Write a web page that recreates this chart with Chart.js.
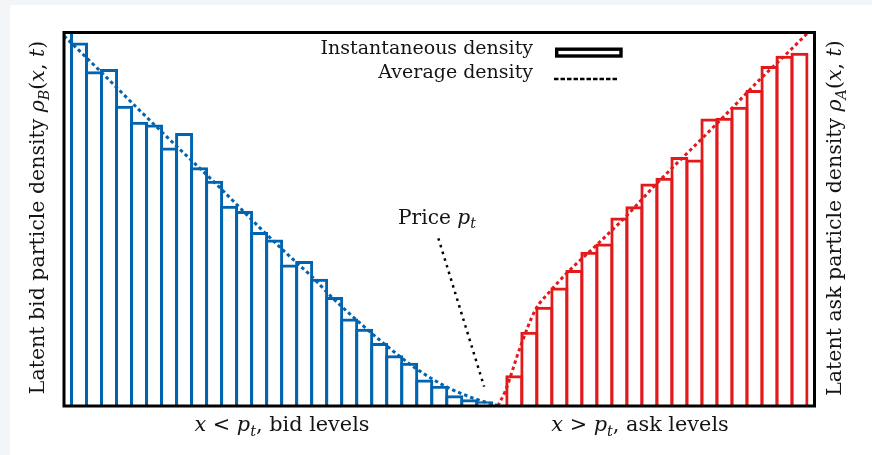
<!DOCTYPE html>
<html>
<head>
<meta charset="utf-8">
<script src="https://cdn.jsdelivr.net/npm/chart.js@4.4.0/dist/chart.umd.min.js"></script>
<style>
  html, body { margin: 0; padding: 0; background: #f3f6f8; }
  #card { position: absolute; left: 10px; top: 5px; right: 0; bottom: 0; background: #fff; }
  #box { position: absolute; left: 0; top: 0; width: 872px; height: 455px; }
</style>
</head>
<body>
<div id="card"></div>
<div id="box"><canvas id="myChart" width="872" height="455"></canvas></div>
<script>
// price levels on one grid, slot 28 holds the price
const bidLevels = [-1, 0, 1, 2, 3, 4, 5, 6, 7, 8, 9, 10, 11, 12, 13, 14, 15, 16, 17, 18, 19, 20, 21, 22, 23, 24, 25, 26, 27];
const bidDensity = [104, 97.3, 89.6, 90.2, 80.4, 76.1, 75.4, 69.2, 73.1, 63.9, 60.3, 53.6, 52.2, 46.6, 44.6,
  37.9, 38.8, 34.1, 29.2, 23.4, 20.7, 16.9, 13.6, 11.6, 7.1, 5.4, 2.9, 1.8, 1.3];

const askLevels = [29, 30, 31, 32, 33, 34, 35, 36, 37, 38, 39, 40, 41, 42, 43, 44, 45, 46, 47, 48];
const askDensity = [8.2, 19.9, 26.6, 31.7, 36.4, 41.3, 43.5, 50.5, 53.5, 59.6, 61.1, 66.7, 66.0, 77.0, 77.2,
  80.1, 84.6, 91.0, 93.8, 94.6];

// average density curves
const bidAvgLevels = [-1, 1.4, 4, 6.7, 9.4, 12, 14, 15.6, 16.7, 18.5, 20.5, 22.5, 24.5, 26.4, 27.9];
const bidAvgDensity = [99.1, 89.7, 79.3, 68.8, 58.4, 47.9, 40.2, 34.3, 29.7, 23.0, 16.1, 9.9, 5.1, 1.9, 0.1];
const askAvgLevels = [27.9, 28.4, 29.4, 30.4, 31.4, 32.5, 34.4, 36.4, 38.4, 41.4, 43.4, 45.4, 47.4, 49];
const askAvgDensity = [0, 4.0, 15.8, 25.7, 30.8, 35.6, 42.8, 50.6, 59.2, 71.2, 79.3, 87.6, 95.3, 101.7];

// pointer from the "Price" label down to the price
const priceLineLevels = [23.94, 26.99];
const priceLineDensity = [44.9, 5.2];

const BLUE = "#0064b0";
const RED = "#e31a1c";
const INK = "#141414";
const SERIF = '"DejaVu Serif", "Liberation Serif", serif';

function toPoints(xs, ys) {
  return xs.map(function (x, i) {
    return { x: x, y: ys[i] };
  });
}

// [text, style] with style r = roman, i = italic, s = italic subscript
const leftTitle = [["Latent bid particle density ", "r"], ["ρ", "i"], ["B", "s"], ["(", "r"], ["x", "i"], [", ", "r"], ["t", "i"], [")", "r"]];
const rightTitle = [["Latent ask particle density ", "r"], ["ρ", "i"], ["A", "s"], ["(", "r"], ["x", "i"], [", ", "r"], ["t", "i"], [")", "r"]];
const bidCaption = [["x", "i"], [" < ", "r"], ["p", "i"], ["t", "s"], [", bid levels", "r"]];
const askCaption = [["x", "i"], [" > ", "r"], ["p", "i"], ["t", "s"], [", ask levels", "r"]];
const priceLabel = [["Price ", "r"], ["p", "i"], ["t", "s"]];

function runFont(style, size) {
  if (style === "s") return "italic " + (size * 0.7).toFixed(1) + "px " + SERIF;
  if (style === "i") return "italic " + size + "px " + SERIF;
  return size + "px " + SERIF;
}

function drawRuns(ctx, runs, x, y, align, size) {
  const widths = runs.map(function (r) {
    ctx.font = runFont(r[1], size);
    return ctx.measureText(r[0]).width;
  });
  const total = widths.reduce(function (a, b) { return a + b; }, 0);
  let cx = x;
  if (align === "center") cx = x - total / 2;
  if (align === "right") cx = x - total;
  ctx.textBaseline = "alphabetic";
  ctx.textAlign = "left";
  runs.forEach(function (r, i) {
    ctx.font = runFont(r[1], size);
    ctx.fillText(r[0], cx, y + (r[1] === "s" ? size * 0.22 : 0));
    cx += widths[i];
  });
}

const decorations = {
  id: "decorations",
  afterDraw(chart) {
    const ctx = chart.ctx;
    const a = chart.chartArea;
    ctx.save();

    // frame
    ctx.strokeStyle = "#000";
    ctx.lineWidth = 3;
    ctx.strokeRect(a.left, a.top, a.right - a.left, a.bottom - a.top);

    ctx.fillStyle = INK;

    // axis titles
    ctx.save();
    ctx.translate(44, 217.5);
    ctx.rotate(-Math.PI / 2);
    drawRuns(ctx, leftTitle, 0, 0, "center", 20.5);
    ctx.restore();

    ctx.save();
    ctx.translate(841, 218);
    ctx.rotate(-Math.PI / 2);
    drawRuns(ctx, rightTitle, 0, 0, "center", 20.5);
    ctx.restore();

    drawRuns(ctx, bidCaption, 282, 431, "center", 20.8);
    drawRuns(ctx, askCaption, 640, 431, "center", 20.8);
    drawRuns(ctx, priceLabel, 398, 224, "left", 20.2);

    // legend
    drawRuns(ctx, [["Instantaneous density", "r"]], 533, 54, "right", 19);
    drawRuns(ctx, [["Average density", "r"]], 533, 77.5, "right", 19);

    ctx.strokeStyle = "#000";
    ctx.lineWidth = 3.4;
    ctx.strokeRect(556.7, 49.2, 64.3, 6.8);

    ctx.lineWidth = 2.5;
    ctx.setLineDash([4.5, 2]);
    ctx.beginPath();
    ctx.moveTo(554, 79);
    ctx.lineTo(617, 79);
    ctx.stroke();

    ctx.restore();
  }
};

const barStyle = {
  type: "bar",
  backgroundColor: "rgba(0,0,0,0)",
  borderWidth: 3,
  borderSkipped: "start",
  barPercentage: 1.2,
  categoryPercentage: 1,
  grouped: false,
  clip: 0,
  order: 3
};

const avgStyle = {
  type: "line",
  borderWidth: 3,
  borderDash: [3.5, 3],
  pointRadius: 0,
  fill: false,
  cubicInterpolationMode: "monotone",
  clip: 0,
  order: 1
};

const chart = new Chart(document.getElementById("myChart"), {
  type: "bar",
  data: {
    datasets: [
      Object.assign({}, barStyle, { label: "bid", data: toPoints(bidLevels, bidDensity), borderColor: BLUE }),
      Object.assign({}, barStyle, { label: "ask", data: toPoints(askLevels, askDensity), borderColor: RED }),
      Object.assign({}, avgStyle, { label: "bid avg", data: toPoints(bidAvgLevels, bidAvgDensity), borderColor: BLUE }),
      Object.assign({}, avgStyle, { label: "ask avg", data: toPoints(askAvgLevels, askAvgDensity), borderColor: RED }),
      {
        type: "line",
        label: "price",
        data: toPoints(priceLineLevels, priceLineDensity),
        borderColor: "#000",
        borderWidth: 2.5,
        borderDash: [2.5, 4.5],
        pointRadius: 0,
        fill: false,
        order: 0
      }
    ]
  },
  options: {
    responsive: false,
    animation: false,
    layout: { padding: { left: 64, top: 32.5, right: 57.5, bottom: 49 } },
    scales: {
      x: { type: "linear", min: -1, max: 49, offset: false, display: false, ticks: { stepSize: 1 } },
      y: { type: "linear", min: 0, max: 100, display: false }
    },
    plugins: {
      legend: { display: false },
      tooltip: { enabled: false }
    }
  },
  plugins: [decorations]
});
</script>
</body>
</html>
